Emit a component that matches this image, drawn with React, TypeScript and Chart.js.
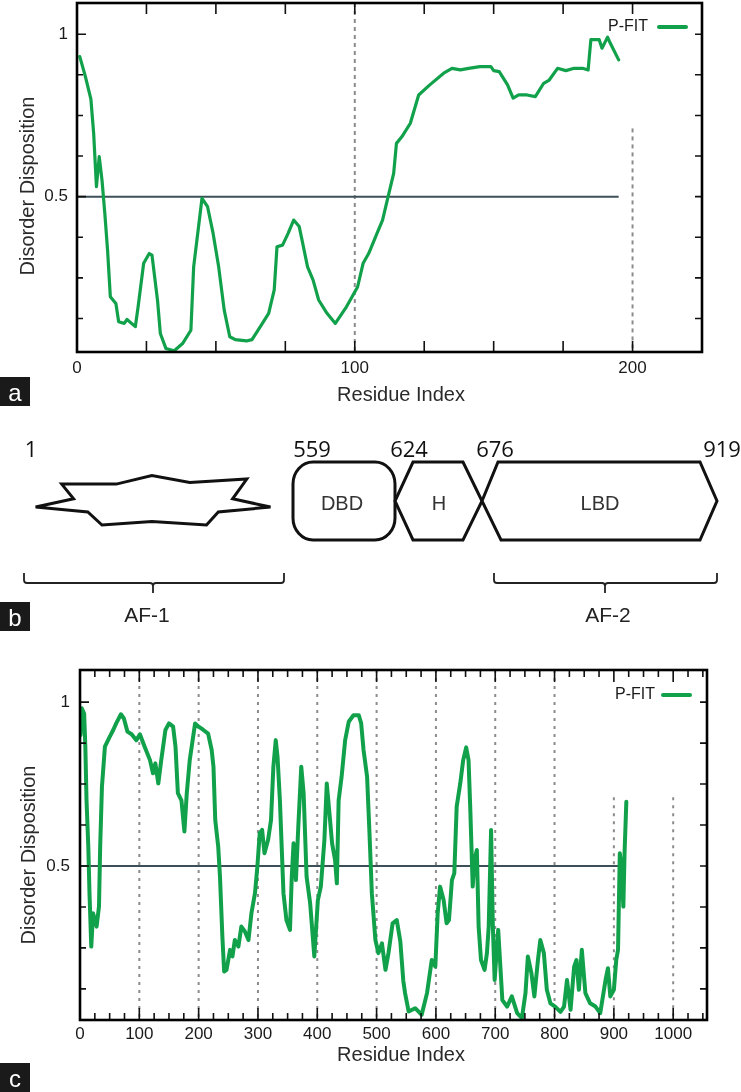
import { useEffect, useRef } from 'react';
import { Chart, registerables } from 'chart.js';

Chart.register(...registerables);

const SANS = '"Liberation Sans", Arial, Helvetica, sans-serif';
const GREEN = '#12a14b';
const THRESHOLD_COLOR = '#3d5058';

// ---------------- data : panel a (residues 1-195) ----------------
const aResidue = [1, 3, 5, 6, 7, 8, 9, 10, 11, 12, 14, 15, 17, 18, 21, 22, 24, 26, 27, 29, 30, 32, 35, 38, 41, 42, 45, 47, 49, 51, 53, 55, 57, 61, 63, 66, 69, 71, 72, 74, 76, 78, 80, 81, 83, 85, 87, 90, 93, 97, 101, 103, 105, 108, 110, 112, 114, 115, 117, 120, 123, 127, 132, 135, 138, 141, 145, 149, 150, 152, 155, 157, 159, 162, 165, 168, 170, 173, 176, 179, 182, 184, 185, 188, 189, 191, 192, 195];
const aDisorder = [0.931, 0.87, 0.8, 0.695, 0.531, 0.623, 0.551, 0.45, 0.336, 0.192, 0.171, 0.115, 0.11, 0.122, 0.1, 0.161, 0.295, 0.325, 0.32, 0.18, 0.079, 0.033, 0.026, 0.048, 0.089, 0.284, 0.495, 0.469, 0.387, 0.284, 0.151, 0.069, 0.06, 0.056, 0.06, 0.1, 0.141, 0.213, 0.346, 0.351, 0.387, 0.428, 0.408, 0.367, 0.284, 0.243, 0.182, 0.141, 0.11, 0.161, 0.222, 0.295, 0.325, 0.387, 0.428, 0.5, 0.572, 0.664, 0.685, 0.726, 0.813, 0.844, 0.88, 0.895, 0.89, 0.895, 0.9, 0.9, 0.888, 0.885, 0.844, 0.803, 0.813, 0.813, 0.808, 0.849, 0.859, 0.895, 0.888, 0.895, 0.895, 0.89, 0.983, 0.983, 0.957, 0.991, 0.972, 0.921];

// ---------------- data : panel c (residues 1-921) ----------------
const cResidue = [1, 3, 7, 9, 11, 14, 16, 19, 22, 28, 32, 34, 37, 42, 50, 56, 61, 69, 74, 80, 87, 95, 101, 109, 118, 123, 127, 132, 137, 144, 150, 157, 161, 165, 171, 176, 180, 185, 194, 200, 208, 216, 222, 225, 228, 233, 236, 240, 243, 247, 253, 257, 261, 267, 272, 278, 284, 289, 295, 299, 303, 307, 311, 317, 322, 326, 330, 333, 337, 343, 348, 354, 357, 360, 364, 368, 373, 377, 382, 388, 395, 401, 406, 412, 416, 420, 425, 430, 433, 436, 441, 447, 453, 461, 470, 474, 478, 484, 488, 492, 498, 503, 509, 515, 520, 527, 534, 540, 545, 548, 554, 565, 576, 585, 593, 599, 603, 607, 613, 618, 622, 627, 631, 635, 641, 646, 651, 655, 658, 662, 665, 669, 672, 676, 682, 686, 689, 693, 696, 699, 705, 708, 712, 720, 728, 737, 745, 751, 755, 761, 766, 772, 776, 782, 787, 793, 801, 810, 816, 821, 827, 833, 837, 841, 846, 852, 860, 869, 877, 886, 890, 894, 900, 904, 907, 910, 913, 916, 918, 921];
const cDisorder = [0.9, 0.981, 0.965, 0.864, 0.7, 0.559, 0.417, 0.254, 0.356, 0.315, 0.376, 0.559, 0.742, 0.864, 0.894, 0.915, 0.935, 0.963, 0.95, 0.91, 0.902, 0.884, 0.902, 0.864, 0.823, 0.783, 0.813, 0.752, 0.823, 0.915, 0.935, 0.925, 0.864, 0.722, 0.7, 0.605, 0.722, 0.823, 0.935, 0.925, 0.915, 0.904, 0.854, 0.803, 0.64, 0.559, 0.467, 0.285, 0.178, 0.183, 0.244, 0.224, 0.274, 0.254, 0.315, 0.3, 0.274, 0.356, 0.417, 0.498, 0.6, 0.61, 0.539, 0.579, 0.64, 0.803, 0.884, 0.833, 0.7, 0.417, 0.335, 0.305, 0.467, 0.569, 0.457, 0.62, 0.803, 0.722, 0.467, 0.386, 0.224, 0.396, 0.437, 0.579, 0.752, 0.671, 0.569, 0.518, 0.447, 0.7, 0.772, 0.884, 0.94, 0.96, 0.96, 0.935, 0.854, 0.772, 0.6, 0.417, 0.274, 0.234, 0.264, 0.183, 0.234, 0.325, 0.335, 0.27, 0.15, 0.112, 0.056, 0.066, 0.046, 0.112, 0.213, 0.193, 0.356, 0.437, 0.396, 0.325, 0.335, 0.457, 0.478, 0.681, 0.752, 0.823, 0.862, 0.823, 0.671, 0.437, 0.518, 0.549, 0.315, 0.213, 0.183, 0.234, 0.315, 0.61, 0.315, 0.152, 0.305, 0.213, 0.091, 0.071, 0.102, 0.051, 0.036, 0.112, 0.224, 0.173, 0.102, 0.213, 0.274, 0.234, 0.122, 0.081, 0.071, 0.055, 0.071, 0.152, 0.061, 0.193, 0.213, 0.122, 0.244, 0.112, 0.081, 0.071, 0.051, 0.152, 0.188, 0.102, 0.122, 0.213, 0.244, 0.539, 0.498, 0.376, 0.539, 0.696];

// ---------------- ticks, labels ----------------
const aXTickLabels = [0, 100, 200];
const cXTickLabels = [0, 100, 200, 300, 400, 500, 600, 700, 800, 900, 1000];
const aGridLines = [100, 200];
const cGridLines = [100, 200, 300, 400, 500, 600, 700, 800, 900, 1000];
const yTickLabels = [0.5, 1];
const yMinorTicks = [0.125, 0.25, 0.375, 0.5, 0.625, 0.75, 0.875, 1];
const disorderThreshold = 0.5;
const aThresholdEnd = 195;
const cThresholdEnd = 920;
const seriesName = 'P-FIT';
const xTitle = 'Residue Index';
const yTitle = 'Disorder Disposition';

// ---------------- panel b texts ----------------
const domainBoundaryLabels = ['1', '559', '624', '676', '919'];
const domainNames = ['DBD', 'H', 'LBD'];
const activationFunctions = ['AF-1', 'AF-2'];
const panelLetters = ['a', 'b', 'c'];

type PanelLayout = {
  top: number;
  width: number;
  height: number;
  area: { left: number; top: number; right: number; bottom: number };
  xMax: number;
  yMin: number;
  yMax: number;
  xStep: number;
  xLabelPad: number;
  yLabelPad: number;
  lineWidth: number;
  dash: number[];
  partialGridFrom: number;
  partialGridTop: number;
  xMajorTick: number;
  xMinorTick: number;
  xTitlePos: [number, number];
  yTitlePos: [number, number];
  legend: { textRight: number; y: number; x0: number; x1: number };
};

const layoutA: PanelLayout = {
  top: 0,
  width: 741,
  height: 420,
  area: { left: 77, top: 3, right: 702, bottom: 352 },
  xMax: 225,
  yMin: 0.022,
  yMax: 1.096,
  xStep: 25,
  xLabelPad: 6,
  yLabelPad: 9,
  lineWidth: 3.2,
  dash: [4, 4],
  partialGridFrom: 150,
  partialGridTop: 0.71,
  xMajorTick: 11,
  xMinorTick: 11,
  xTitlePos: [401, 395],
  yTitlePos: [28, 186],
  legend: { textRight: 648, y: 27, x0: 659, x1: 686 },
};

const layoutC: PanelLayout = {
  top: 620,
  width: 741,
  height: 472,
  area: { left: 80, top: 50, right: 707, bottom: 400 },
  xMax: 1057,
  yMin: 0.03,
  yMax: 1.098,
  xStep: 25,
  xLabelPad: 4,
  yLabelPad: 10,
  lineWidth: 4,
  dash: [3, 5],
  partialGridFrom: 850,
  partialGridTop: 0.71,
  xMajorTick: 12,
  xMinorTick: 7,
  xTitlePos: [401, 435],
  yTitlePos: [29, 235],
  legend: { textRight: 655, y: 75, x0: 663, x1: 690 },
};

type PanelProps = {
  residues: number[];
  values: number[];
  xTicks: number[];
  grid: number[];
  thresholdEnd: number;
  layout: PanelLayout;
};

function DisorderPanel({ residues, values, xTicks, grid, thresholdEnd, layout }: PanelProps) {
  const ref = useRef<HTMLCanvasElement>(null);

  useEffect(() => {
    const L = layout;
    const decor = {
      id: 'decor',
      beforeDatasetsDraw(chart: any) {
        const { ctx, chartArea } = chart;
        const x = chart.scales.x;
        const y = chart.scales.y;
        ctx.save();
        ctx.strokeStyle = '#8c8c8c';
        ctx.lineWidth = 2;
        ctx.setLineDash(L.dash);
        for (const g of grid) {
          const px = x.getPixelForValue(g);
          const y0 = g >= L.partialGridFrom ? y.getPixelForValue(L.partialGridTop) : chartArea.top;
          ctx.beginPath();
          ctx.moveTo(px, y0);
          ctx.lineTo(px, chartArea.bottom);
          ctx.stroke();
        }
        ctx.restore();
      },
      afterDraw(chart: any) {
        const { ctx, chartArea } = chart;
        const { left, top, right, bottom } = chartArea;
        const x = chart.scales.x;
        const y = chart.scales.y;
        ctx.save();
        // ticks
        ctx.strokeStyle = '#111';
        ctx.lineWidth = 1.6;
        for (let v = L.xStep; v < L.xMax; v += L.xStep) {
          const px = x.getPixelForValue(v);
          const len = v % 100 === 0 ? L.xMajorTick : L.xMinorTick;
          ctx.beginPath();
          ctx.moveTo(px, bottom);
          ctx.lineTo(px, bottom - len);
          ctx.moveTo(px, top);
          ctx.lineTo(px, top + len);
          ctx.stroke();
        }
        for (const v of yMinorTicks) {
          const py = y.getPixelForValue(v);
          const len = yTickLabels.includes(v) ? 9 : 6;
          ctx.beginPath();
          ctx.moveTo(left, py);
          ctx.lineTo(left + len, py);
          ctx.moveTo(right, py);
          ctx.lineTo(right - 7, py);
          ctx.stroke();
        }
        // frame
        ctx.lineWidth = 2.6;
        ctx.strokeStyle = '#000';
        ctx.strokeRect(left, top, right - left, bottom - top);
        // legend
        ctx.fillStyle = '#1a1a1a';
        ctx.font = `16px ${SANS}`;
        ctx.textAlign = 'right';
        ctx.textBaseline = 'middle';
        ctx.fillText(seriesName, L.legend.textRight, L.legend.y);
        ctx.strokeStyle = GREEN;
        ctx.lineWidth = 4;
        ctx.lineCap = 'round';
        ctx.beginPath();
        ctx.moveTo(L.legend.x0, L.legend.y);
        ctx.lineTo(L.legend.x1, L.legend.y);
        ctx.stroke();
        // axis titles
        ctx.fillStyle = '#2a2a2a';
        ctx.font = `20px ${SANS}`;
        ctx.textAlign = 'center';
        ctx.fillText(xTitle, L.xTitlePos[0], L.xTitlePos[1]);
        ctx.translate(L.yTitlePos[0], L.yTitlePos[1]);
        ctx.rotate(-Math.PI / 2);
        ctx.fillText(yTitle, 0, 0);
        ctx.restore();
      },
    };

    const chart = new Chart(ref.current as HTMLCanvasElement, {
      type: 'line',
      data: {
        datasets: [
          {
            label: seriesName,
            data: residues.map((r, i) => ({ x: r, y: values[i] })),
            borderColor: GREEN,
            borderWidth: L.lineWidth,
            pointRadius: 0,
            tension: 0,
            order: 0,
            borderJoinStyle: 'round',
            borderCapStyle: 'round',
          },
          {
            label: 'threshold',
            data: [
              { x: 0, y: disorderThreshold },
              { x: thresholdEnd, y: disorderThreshold },
            ],
            borderColor: THRESHOLD_COLOR,
            borderWidth: 2,
            pointRadius: 0,
            order: 1,
          },
        ],
      },
      options: {
        responsive: false,
        animation: false,
        events: [],
        layout: {
          padding: { left: 0, top: L.area.top, right: L.width - L.area.right, bottom: 0 },
        },
        plugins: { legend: { display: false }, tooltip: { enabled: false } },
        scales: {
          x: {
            type: 'linear',
            min: 0,
            max: L.xMax,
            grid: { display: false, drawTicks: false },
            border: { display: false },
            ticks: {
              font: { family: SANS, size: 17 },
              color: '#1a1a1a',
              padding: L.xLabelPad,
              autoSkip: false,
              maxRotation: 0,
              callback: (v: any) => String(v),
            },
            afterBuildTicks: (s: any) => {
              s.ticks = xTicks.map((v) => ({ value: v }));
            },
            afterFit: (s: any) => {
              s.height = L.height - L.area.bottom;
              s.paddingLeft = 0;
              s.paddingRight = 0;
              s.paddingTop = 0;
              s.paddingBottom = 0;
            },
          },
          y: {
            type: 'linear',
            min: L.yMin,
            max: L.yMax,
            grid: { display: false, drawTicks: false },
            border: { display: false },
            ticks: {
              font: { family: SANS, size: 17 },
              color: '#1a1a1a',
              padding: L.yLabelPad,
              autoSkip: false,
              callback: (v: any) => String(v),
            },
            afterBuildTicks: (s: any) => {
              s.ticks = yTickLabels.map((v) => ({ value: v }));
            },
            afterFit: (s: any) => {
              s.width = L.area.left;
              s.paddingLeft = 0;
              s.paddingRight = 0;
              s.paddingTop = 0;
              s.paddingBottom = 0;
            },
          },
        },
      } as any,
      plugins: [decor],
    });
    return () => chart.destroy();
  }, []);

  return (
    <canvas
      ref={ref}
      width={layout.width}
      height={layout.height}
      style={{ position: 'absolute', left: 0, top: layout.top, width: layout.width, height: layout.height }}
    />
  );
}

function DomainDiagram() {
  const stroke = '#111';
  const numberFont = '"Open Sans", "Noto Sans", sans-serif';
  const boundaryX = [31, 312, 409, 495, 722];
  const domainX = [342, 439, 600];
  const afX = [147, 608];
  const letterY = [377, 602, 1063];
  return (
    <svg
      width={741}
      height={1092}
      viewBox="0 0 741 1092"
      style={{ position: 'absolute', left: 0, top: 0, pointerEvents: 'none' }}
    >
      {domainBoundaryLabels.map((t, i) => (
        <text key={t} x={boundaryX[i]} y={457} textAnchor="middle" fontFamily={numberFont} fontSize={22} fill="#111">
          {t}
        </text>
      ))}
      <polygon
        points="35.6,507 87.8,512 102,525 151.9,521.6 206.5,525 218.3,512 270.5,507 232.6,498.8 246.8,479 189.8,482.4 151.9,475.5 116.3,484.1 61.7,484.1 73.6,498.8"
        fill="#fff"
        stroke={stroke}
        strokeWidth={3}
        strokeLinejoin="miter"
      />
      <rect x={293} y={462} width={102} height={78} rx={20} ry={22} fill="#fff" stroke={stroke} strokeWidth={3} />
      <polygon points="413,462 463,462 482,501 463,540 413,540 395,501" fill="#fff" stroke={stroke} strokeWidth={3} strokeLinejoin="miter" />
      <polygon points="482,501 498,462 700,462 717,501 700,540 501,540" fill="#fff" stroke={stroke} strokeWidth={3} strokeLinejoin="miter" />
      {domainNames.map((t, i) => (
        <text key={t} x={domainX[i]} y={503} textAnchor="middle" dominantBaseline="central" fontFamily={SANS} fontSize={20} fill="#333">
          {t}
        </text>
      ))}
      <path
        d="M24 573 V580 Q24 583 27 583 H150 Q153 583 153 586 V593 M153 586 Q153 583 156 583 H281 Q284 583 284 580 V573"
        fill="none"
        stroke="#222"
        strokeWidth={1.8}
      />
      <path
        d="M494 573 V580 Q494 583 497 583 H602 Q605 583 605 586 V593 M605 586 Q605 583 608 583 H714 Q717 583 717 580 V573"
        fill="none"
        stroke="#222"
        strokeWidth={1.8}
      />
      {activationFunctions.map((t, i) => (
        <text key={t} x={afX[i]} y={614} textAnchor="middle" dominantBaseline="central" fontFamily={SANS} fontSize={21} fill="#222">
          {t}
        </text>
      ))}
      {panelLetters.map((t, i) => (
        <g key={t}>
          <rect x={0} y={letterY[i]} width={30} height={29} fill="#1a1a1a" />
          <text x={15} y={letterY[i] + 15} textAnchor="middle" dominantBaseline="central" fontFamily={SANS} fontSize={24} fill="#fff">
            {t}
          </text>
        </g>
      ))}
    </svg>
  );
}

export default function App() {
  return (
    <div style={{ position: 'absolute', left: 0, top: 0, width: 741, height: 1092, background: '#fff', overflow: 'hidden' }}>
      <DisorderPanel
        residues={aResidue}
        values={aDisorder}
        xTicks={aXTickLabels}
        grid={aGridLines}
        thresholdEnd={aThresholdEnd}
        layout={layoutA}
      />
      <DisorderPanel
        residues={cResidue}
        values={cDisorder}
        xTicks={cXTickLabels}
        grid={cGridLines}
        thresholdEnd={cThresholdEnd}
        layout={layoutC}
      />
      <DomainDiagram />
    </div>
  );
}
